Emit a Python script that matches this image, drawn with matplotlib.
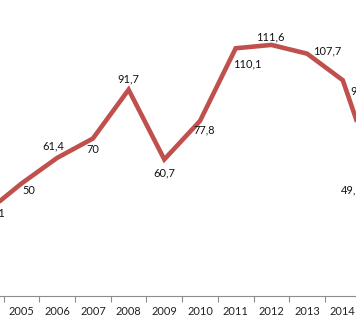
import matplotlib
matplotlib.use("Agg")
import matplotlib.pyplot as plt

years = [2004, 2005, 2006, 2007, 2008, 2009, 2010, 2011, 2012, 2013, 2014, 2015]
values = [37.1, 50.0, 61.4, 70.0, 91.7, 60.7, 77.8, 110.1, 111.6, 107.7, 95.9, 49.5]
# label offsets in pixels (dx, dy) and horizontal alignment
label_pos = [
    (-2, 0, "left"), (1, -7, "left"), (-4, 12, "center"), (0, -11, "center"),
    (0, 11, "center"), (0, -13, "center"), (-7, -9, "left"), (-3, -16, "left"),
    (-1, 8, "center"), (6, 3, "left"), (8, -11, "left"), (-38, -5, "left"),
]

plt.rcParams["font.family"] = ["Lato", "DejaVu Sans"]

W, H = 356, 330
fig = plt.figure(figsize=(W / 100, H / 100), dpi=100)
ax = fig.add_axes([0, 34 / H, 1, 296 / H])

ax.plot(years, values, color="#C0504D", linewidth=3.3, solid_joinstyle="miter",
        solid_capstyle="butt", zorder=3, clip_on=False)

def fmt(v):
    s = f"{v:.1f}"
    if s.endswith(".0"):
        s = s[:-2]
    return s.replace(".", ",")

for x, v, (dx, dy, ha) in zip(years, values, label_pos):
    ax.annotate(fmt(v), (x, v), xytext=(dx, dy), textcoords="offset pixels",
                ha=ha, va="center", fontsize=7.9, color="#111111",
                annotation_clip=False)

ax.set_xticks([y + 0.5 for y in range(2003, 2016)], minor=False)
ax.set_xticklabels([])
ax.set_xticks(list(range(2005, 2015)), minor=True)
ax.set_xticklabels([str(y) for y in range(2005, 2015)], minor=True)
ax.tick_params(axis="x", which="major", length=4, width=0.8, color="#8c8c8c",
               direction="out")
ax.tick_params(axis="x", which="minor", length=0, pad=7, labelsize=7.9,
               labelcolor="#222222")
ax.set_yticks([])
for s in ("left", "right", "top"):
    ax.spines[s].set_visible(False)
ax.spines["bottom"].set_color("#8c8c8c")
ax.spines["bottom"].set_linewidth(0.8)

px = 35.7
x0 = 2005 - 21.5 / px
ax.set_xlim(x0, x0 + W / px)
ax.set_ylim(0, 296 / 2.25)

fig.savefig("out.png", dpi=100)
